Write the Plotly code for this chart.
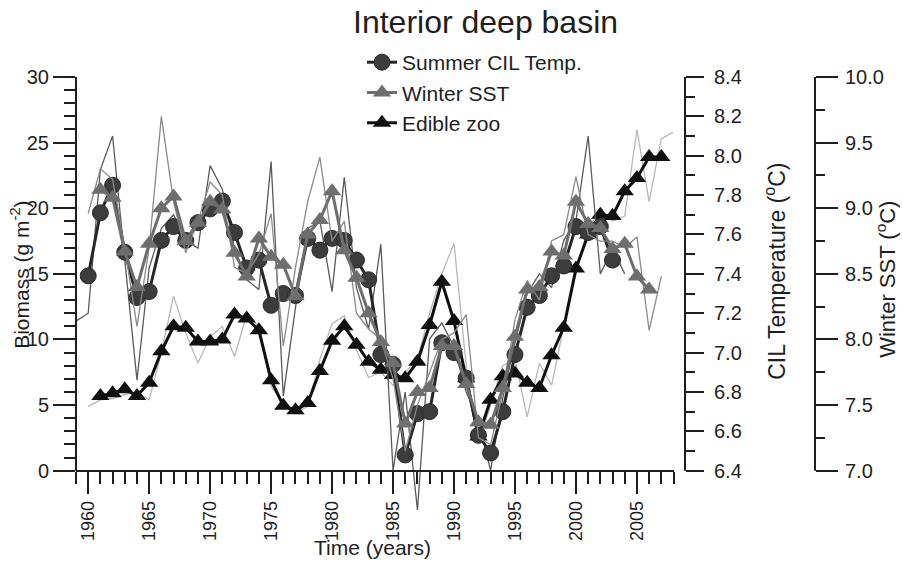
import plotly.graph_objects as go

# ---------------- data ----------------
years_cil = list(range(1960, 2004))
cil_smooth = [7.39, 7.71, 7.85, 7.51, 7.28, 7.31, 7.57, 7.64, 7.57, 7.66,
              7.73, 7.77, 7.61, 7.43, 7.47, 7.24, 7.30, 7.29, 7.58, 7.52,
              7.58, 7.57, 7.47, 7.37, 6.99, 6.94, 6.48, 6.69, 6.70, 7.05,
              7.00, 6.87, 6.58, 6.49, 6.70, 6.99, 7.23, 7.29, 7.39, 7.44,
              7.64, 7.61, 7.64, 7.47]

years_sst = list(range(1961, 2007))
sst_smooth = [9.14, 9.08, 8.67, 8.40, 8.73, 9.00, 9.09, 8.75, 8.89,
              9.05, 8.99, 8.66, 8.48, 8.77, 8.63, 8.57, 8.33, 8.80, 8.91,
              9.13, 8.68, 8.47, 8.20, 7.98, 7.82, 7.36, 7.60, 7.63, 7.95,
              7.95, 7.66, 7.37, 7.35, 7.63, 8.02, 8.38, 8.40, 8.67, 8.64,
              9.05, 8.88, 8.85, 8.69, 8.73, 8.48, 8.38]

years_zoo = list(range(1961, 2008))
zoo_smooth = [5.7, 5.9, 6.2, 5.7, 6.7, 9.1, 11.0, 10.9, 9.85,
              9.85, 10.0, 11.9, 11.6, 10.7, 6.9, 4.95, 4.6, 5.15, 7.6,
              9.9, 11.0, 9.6, 8.3, 7.7, 7.3, 7.05, 8.3, 11.1, 14.4,
              11.4, 7.05, 2.6, 5.4, 7.2, 7.4, 6.7, 6.3, 8.8, 10.9,
              15.4, 18.0, 19.5, 19.4, 21.3, 22.3, 23.9, 23.9]

years_cil_raw = list(range(1959, 2005))
cil_raw = [7.16, 7.20, 7.93, 8.10, 7.47, 6.86, 7.43, 7.63, 7.70, 7.57,
           7.53, 7.95, 7.83, 7.53, 7.37, 7.32, 7.97, 6.78, 7.23, 7.63,
           7.67, 7.31, 7.89, 7.33, 7.12, 7.55, 6.40, 6.80, 6.20, 7.07,
           7.15, 7.03, 6.80, 6.66, 6.40, 6.77, 7.05, 7.30, 7.40, 7.33,
           7.57, 7.67, 8.10, 7.40, 7.53, 7.40]

years_sst_raw = list(range(1960, 2008))
sst_raw = [8.96, 9.30, 9.22, 8.70, 8.10, 8.70, 9.70, 9.05, 8.66, 8.90,
           9.20, 9.10, 8.55, 8.50, 8.65, 8.96, 7.95, 8.55, 9.05, 9.39,
           8.75, 8.90, 8.20, 8.08, 8.00, 7.70, 7.15, 7.50, 7.75, 8.00,
           8.05, 8.19, 7.25, 7.20, 7.60, 8.15, 8.45, 8.30, 8.75, 8.80,
           9.24, 8.80, 8.75, 8.75, 8.70, 8.78, 8.07, 8.48]

years_zoo_raw = list(range(1960, 2009))
zoo_raw = [4.9, 5.4, 5.5, 5.8, 6.0, 5.4, 9.0, 13.3, 10.5, 8.2,
           10.2, 11.0, 8.7, 11.9, 11.0, 6.4, 5.2, 4.4, 4.9, 8.5,
           11.2, 11.8, 9.2, 7.1, 7.5, 6.5, 7.5, 8.5, 12.0, 15.0,
           17.3, 8.0, 2.0, 5.0, 8.0, 8.5, 4.1, 8.2, 6.5, 11.0,
           15.0, 18.5, 19.8, 19.0, 19.4, 26.0, 20.5, 25.3, 25.8]

x_tick_years = list(range(1960, 2006, 5))
bio_ticks = list(range(0, 31, 5))
cil_ticks = [6.4, 6.6, 6.8, 7.0, 7.2, 7.4, 7.6, 7.8, 8.0, 8.2, 8.4]
sst_ticks = [7.0, 7.5, 8.0, 8.5, 9.0, 9.5, 10.0]

# ---------------- layout geometry ----------------
W, H = 902, 561
L, R, T = 76, 87, 77
Y0_PX, Y30_PX = 471.0, 77.0
ppu = (Y0_PX - Y30_PX) / 30.0
BIO_MIN = -3.3
plot_bottom = Y0_PX - BIO_MIN * ppu
B = H - plot_bottom
PW = W - L - R
PH = plot_bottom - T


def px_x(p):
    return (p - L) / PW


def px_y(p):
    return (plot_bottom - p) / PH


CIL_MIN = 6.4 + BIO_MIN / 15.0
SST_MIN = 7.0 + BIO_MIN / 10.0

INK = '#1e1e1e'
FONT = 'Liberation Sans, Arial, Helvetica, sans-serif'

fig = go.Figure()

fig.add_trace(go.Scatter(x=years_zoo_raw, y=zoo_raw, mode='lines',
                         line=dict(color='#b8b8b8', width=1.3),
                         yaxis='y', showlegend=False, hoverinfo='skip'))
fig.add_trace(go.Scatter(x=years_sst_raw, y=sst_raw, mode='lines',
                         line=dict(color='#8a8a8a', width=1.3),
                         yaxis='y3', showlegend=False, hoverinfo='skip'))
fig.add_trace(go.Scatter(x=years_cil_raw, y=cil_raw, mode='lines',
                         line=dict(color='#5a5a5a', width=1.3),
                         yaxis='y2', showlegend=False, hoverinfo='skip'))

fig.add_trace(go.Scatter(x=years_sst, y=sst_smooth, mode='lines+markers',
                         name='Winter SST', legendrank=2,
                         line=dict(color='#6e6e6e', width=3),
                         marker=dict(symbol='triangle-up', size=16, color='#6e6e6e'),
                         yaxis='y3'))
fig.add_trace(go.Scatter(x=years_cil, y=cil_smooth, mode='lines+markers',
                         name='Summer CIL Temp.', legendrank=1,
                         line=dict(color='#262626', width=3),
                         marker=dict(symbol='circle', size=16, color='#3c3c3c',
                                     line=dict(color='#2a2a2a', width=1)),
                         yaxis='y2'))
fig.add_trace(go.Scatter(x=years_zoo, y=zoo_smooth, mode='lines+markers',
                         name='Edible zoo', legendrank=3,
                         line=dict(color='#101010', width=3),
                         marker=dict(symbol='triangle-up', size=16, color='#101010'),
                         yaxis='y'))

tick_common = dict(ticks='outside', tickcolor=INK, tickwidth=1.5,
                   showgrid=False, zeroline=False)

fig.update_layout(
    width=W, height=H,
    margin=dict(l=L, r=R, t=T, b=B, pad=0),
    plot_bgcolor='white', paper_bgcolor='white',
    font=dict(family=FONT, color=INK),
    xaxis=dict(domain=[0, px_x(673.5)], range=[1959, 2008],
               anchor='free', position=px_y(Y0_PX),
               showline=True, linecolor=INK, linewidth=2,
               tickmode='array', tickvals=x_tick_years,
               ticktext=[str(v) for v in x_tick_years],
               tickangle=-90, ticklen=22, tickfont=dict(size=18, color=INK),
               minor=dict(tickmode='array',
                          tickvals=[y for y in range(1959, 2009) if y % 5],
                          ticks='outside', ticklen=12, tickwidth=1.5, tickcolor=INK),
               **tick_common),
    yaxis=dict(domain=[0, 1], range=[BIO_MIN, 30], anchor='x',
               showline=False,
               tickmode='array', tickvals=bio_ticks,
               ticktext=[str(v) for v in bio_ticks],
               ticklen=22, tickfont=dict(size=20, color=INK),
               minor=dict(tickmode='array',
                          tickvals=[v for v in range(1, 30) if v % 5],
                          ticks='outside', ticklen=11, tickwidth=1.5, tickcolor=INK),
               **tick_common),
    yaxis2=dict(overlaying='y', side='right', anchor='free', position=px_x(685),
                range=[CIL_MIN, 8.4], showline=False,
                tickmode='array', tickvals=cil_ticks,
                ticktext=['%.1f' % v for v in cil_ticks],
                ticklen=18, ticklabelstandoff=6, tickfont=dict(size=20, color=INK),
                minor=dict(tickmode='array',
                           tickvals=[round(v + 0.1, 1) for v in cil_ticks[:-1]],
                           ticks='outside', ticklen=9, tickwidth=1.5, tickcolor=INK),
                **tick_common),
    yaxis3=dict(overlaying='y', side='right', anchor='free', position=1.0,
                range=[SST_MIN, 10.0], showline=False,
                tickmode='array', tickvals=sst_ticks,
                ticktext=['%.1f' % v for v in sst_ticks],
                ticklen=22, ticklabelstandoff=3, tickfont=dict(size=20, color=INK),
                minor=dict(tickmode='array',
                           tickvals=[v + 0.25 for v in sst_ticks[:-1]],
                           ticks='outside', ticklen=9, tickwidth=1.5, tickcolor=INK),
                **tick_common),
    showlegend=True,
    legend=dict(x=px_x(362), y=px_y(42), xanchor='left', yanchor='top',
                bgcolor='rgba(0,0,0,0)', borderwidth=0,
                font=dict(size=21, color=INK, family=FONT),
                traceorder='normal', itemsizing='trace'),
)

# axis lines spanning only the data range (0-30 / 6.4-8.4 / 7-10)
for xp in (0.0, px_x(685), 1.0):
    fig.add_shape(type='line', xref='paper', yref='y', x0=xp, x1=xp,
                  y0=0, y1=30, line=dict(color=INK, width=2), layer='above')

ann = []
ann.append(dict(text='Interior deep basin', x=px_x(485), y=px_y(22),
                xref='paper', yref='paper', showarrow=False,
                xanchor='center', yanchor='middle',
                font=dict(size=32, color=INK, family=FONT)))
ann.append(dict(text='Biomass (g m<sup>-2</sup>)', x=px_x(20), y=px_y(275),
                xref='paper', yref='paper', showarrow=False, textangle=-90,
                xanchor='center', yanchor='middle',
                font=dict(size=21, color=INK, family=FONT)))
ann.append(dict(text='CIL Temperature (<sup>o</sup>C)', x=px_x(775), y=px_y(272),
                xref='paper', yref='paper', showarrow=False, textangle=-90,
                xanchor='center', yanchor='middle',
                font=dict(size=23, color=INK, family=FONT)))
ann.append(dict(text='Winter SST (<sup>o</sup>C)', x=px_x(886), y=px_y(280),
                xref='paper', yref='paper', showarrow=False, textangle=-90,
                xanchor='center', yanchor='middle',
                font=dict(size=22, color=INK, family=FONT)))
ann.append(dict(text='Time (years)', x=px_x(372), y=px_y(548),
                xref='paper', yref='paper', showarrow=False,
                xanchor='center', yanchor='middle',
                font=dict(size=21, color=INK, family=FONT)))
fig.update_layout(annotations=ann)

fig.write_html('out.html')
